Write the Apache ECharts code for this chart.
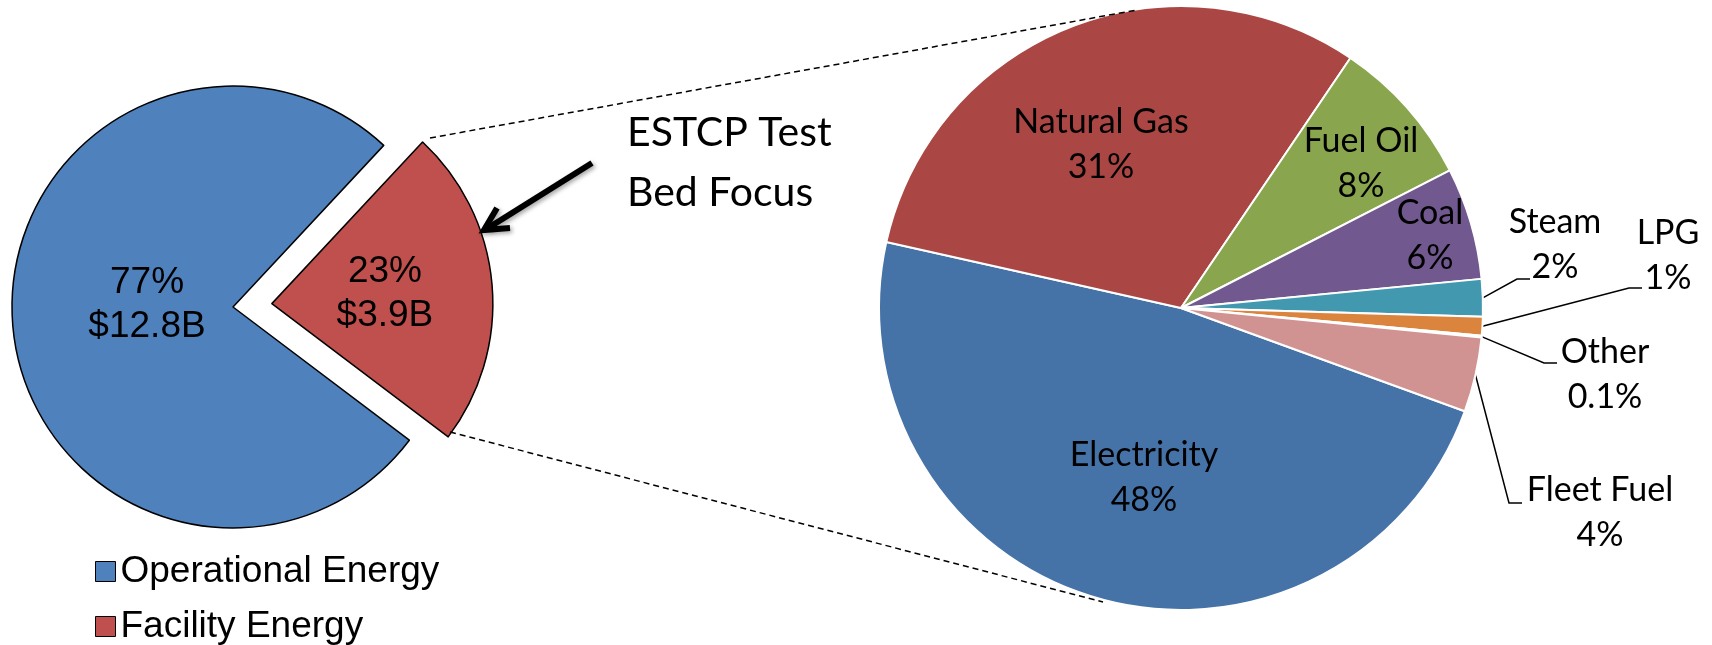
<!DOCTYPE html>
<html><head><meta charset="utf-8">
<script src="https://cdn.jsdelivr.net/npm/echarts@6/dist/echarts.min.js"></script>
<style>html,body{margin:0;padding:0;background:#fff}#c{width:1712px;height:645px}</style>
</head><body><div id="c"></div>
<script>
// ---- data ----
const leftCategories = ['Operational Energy', 'Facility Energy'];
const leftValues = [12.8, 3.9]; // $B
const leftColors = ['#4F81BD', '#C0504D'];

const rightCategories = ['Electricity', 'Natural Gas', 'Fuel Oil', 'Coal', 'Steam', 'LPG', 'Other', 'Fleet Fuel'];
const rightValues = [48, 31, 8, 6, 2, 1, 0.1, 4]; // %
const rightColors = ['#4572A7', '#AA4643', '#89A54E', '#71588F', '#4198AF', '#DB843D', '#93A9CF', '#D19392'];
const outsideLabels = ['Steam', 'LPG', 'Other', 'Fleet Fuel'];

const calloutText = ['ESTCP Test', 'Bed Focus'];

// ---- label layout (text placement only) ----
const leftLabelPos = { 'Operational Energy': [147, 305], 'Facility Energy': [423, 284] };
const rightLabelPos = {
  'Electricity': [1144, 478], 'Natural Gas': [1101, 145], 'Fuel Oil': [1361, 164], 'Coal': [1430, 236],
  'Steam': [1555, 245], 'LPG': [1668, 256], 'Other': [1605, 375], 'Fleet Fuel': [1600, 513]
};
const leaderEnd = { 'Steam': [-25, 34], 'LPG': [-26, 32], 'Other': [-48, -12], 'Fleet Fuel': [-78, -10] };

const chart = echarts.init(document.getElementById('c'), null, { renderer: 'canvas' });

const option = {
  animation: false,
  backgroundColor: '#ffffff',
  legend: {
    data: leftCategories,
    orient: 'vertical',
    left: 95,
    top: 553,
    height: 110,
    itemWidth: 20,
    itemHeight: 20,
    itemGap: 18,
    icon: 'rect',
    selectedMode: false,
    padding: 0,
    textStyle: { fontFamily: 'Liberation Sans', fontSize: 37, color: '#000' },
    itemStyle: { borderColor: '#000', borderWidth: 1 }
  },
  graphic: [
    { type: 'line', z: 20, shape: { x1: 430, y1: 138, x2: 1137, y2: 10 },
      style: { stroke: '#000', lineWidth: 1.5, lineDash: [6, 4] } },
    { type: 'line', z: 20, shape: { x1: 450, y1: 432, x2: 1103, y2: 602 },
      style: { stroke: '#000', lineWidth: 1.5, lineDash: [6, 4] } },
    { type: 'line', z: 20, shape: { x1: 592, y1: 163, x2: 488, y2: 228 },
      style: { stroke: '#000', lineWidth: 6, shadowColor: 'rgba(0,0,0,0.35)', shadowBlur: 4, shadowOffsetX: 2, shadowOffsetY: 2 } },
    { type: 'polyline', z: 20, shape: { points: [[497, 208], [484, 230], [510, 228]] },
      style: { stroke: '#000', fill: null, lineWidth: 6, lineJoin: 'miter', shadowColor: 'rgba(0,0,0,0.35)', shadowBlur: 4, shadowOffsetX: 2, shadowOffsetY: 2 } },
    { type: 'text', z: 20, x: 627, y: 103,
      style: { text: calloutText.join('\n'), fontFamily: 'Lato', fontSize: 41, lineHeight: 60, fill: '#000', align: 'left', verticalAlign: 'top' } }
  ],
  series: [
    {
      type: 'pie',
      name: 'Energy',
      center: [233, 307],
      radius: 221,
      startAngle: 47,
      clockwise: false,
      selectedMode: 'single',
      selectedOffset: 39,
      avoidLabelOverlap: false,
      emphasis: { disabled: true },
      itemStyle: { borderColor: '#000', borderWidth: 1.5 },
      select: { itemStyle: { borderColor: '#000', borderWidth: 1.5 } },
      label: {
        show: true, position: 'inside', color: '#000',
        fontFamily: 'Liberation Sans', fontSize: 37, lineHeight: 44,
        formatter: p => Math.round(p.percent) + '%\n$' + p.value.toFixed(1) + 'B'
      },
      labelLine: { show: false },
      labelLayout: function (p) {
        const pos = leftLabelPos[leftCategories[p.dataIndex]];
        return { x: pos[0], y: pos[1], align: 'center', verticalAlign: 'middle' };
      },
      data: leftCategories.map((n, i) => ({
        name: n, value: leftValues[i], selected: i === 1,
        itemStyle: { color: leftColors[i] },
        select: { itemStyle: { color: leftColors[i] } }
      }))
    },
    {
      type: 'pie',
      name: 'Facility',
      center: [1181, 308],
      radius: 302,
      startAngle: 340,
      clockwise: true,
      avoidLabelOverlap: false,
      selectedMode: false,
      emphasis: { disabled: true },
      itemStyle: { borderColor: '#fff', borderWidth: 2 },
      label: {
        show: true, position: 'inside', color: '#000',
        fontFamily: 'Lato', fontSize: 34, lineHeight: 45,
        formatter: p => p.name + '\n' + p.value + '%'
      },
      labelLine: { show: false },
      labelLayout: function (p) {
        const name = rightCategories[p.dataIndex];
        const pos = rightLabelPos[name];
        const out = { x: pos[0], y: pos[1], align: 'center', verticalAlign: 'middle', hideOverlap: false };
        const e = leaderEnd[name];
        if (e && p.labelLinePoints) {
          const ex = pos[0] + e[0], ey = pos[1] + e[1];
          out.labelLinePoints = [p.labelLinePoints[0], [ex - 13, ey], [ex, ey]];
        }
        return out;
      },
      data: rightCategories.map((n, i) => {
        const d = { name: n, value: rightValues[i], itemStyle: { color: rightColors[i] } };
        if (outsideLabels.indexOf(n) >= 0) {
          d.label = { position: 'outside' };
          d.labelLine = { show: true, length: 10, length2: 13, smooth: false, lineStyle: { color: '#000', width: 1.5 } };
        }
        return d;
      })
    }
  ]
};
chart.setOption(option);
</script>
</body></html>
